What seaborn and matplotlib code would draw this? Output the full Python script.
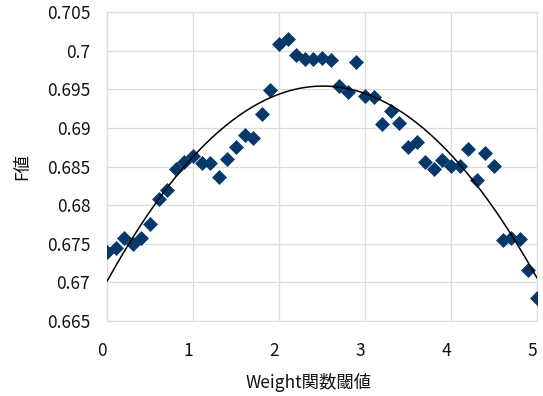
import numpy as np
import pandas as pd
import matplotlib
matplotlib.use("Agg")
import matplotlib.pyplot as plt
import matplotlib.transforms as mtransforms
from matplotlib.ticker import FuncFormatter
import seaborn as sns

# Weight function threshold vs. F-measure
thresholds = [round(0.1 * i, 1) for i in range(51)]
f_values = [
    0.6739, 0.6745, 0.6757, 0.6750, 0.6757, 0.6776, 0.6808, 0.6820, 0.6847, 0.6856,
    0.6864, 0.6855, 0.6855, 0.6836, 0.6860, 0.6875, 0.6891, 0.6887, 0.6918, 0.6949,
    0.7009, 0.7015, 0.6994, 0.6989, 0.6989, 0.6990, 0.6988, 0.6954, 0.6946, 0.6985,
    0.6941, 0.6940, 0.6905, 0.6922, 0.6906, 0.6875, 0.6882, 0.6856, 0.6847, 0.6858,
    0.6851, 0.6851, 0.6873, 0.6833, 0.6867, 0.6851, 0.6755, 0.6757, 0.6756, 0.6716,
    0.6680,
]
x_ticks = [0, 1, 2, 3, 4, 5]
y_ticks = [0.665, 0.67, 0.675, 0.68, 0.685, 0.69, 0.695, 0.7, 0.705]

df = pd.DataFrame({"threshold": thresholds, "f": f_values})

sns.set_style("white")
plt.rcParams["font.family"] = ["Noto Sans CJK JP", "DejaVu Sans"]

fig = plt.figure(figsize=(5.43, 3.96), dpi=100)
ax = fig.add_axes([0.197, 0.189, 0.792, 0.781])

grid_color = "#DCDCDC"
ax.set_axisbelow(True)
ax.grid(True, color=grid_color, linewidth=0.9)

sns.scatterplot(data=df, x="threshold", y="f", marker="D", s=58,
                color="#06386A", edgecolor="#06386A", linewidth=0, ax=ax, zorder=3)
sns.regplot(data=df, x="threshold", y="f", order=2, scatter=False, ci=None,
            line_kws={"color": "black", "linewidth": 1.1, "zorder": 4}, ax=ax)

ax.set_xlim(0, 5)
ax.set_ylim(0.665, 0.705)
ax.set_xticks(x_ticks)
ax.set_yticks(y_ticks)
ax.yaxis.set_major_formatter(FuncFormatter(lambda v, _: f"{v:g}"))
ax.tick_params(axis="both", length=0, labelsize=12.5, colors="#111111")
ax.tick_params(axis="y", pad=12)
ax.tick_params(axis="x", pad=15)

# nudge x tick labels slightly left
shift = mtransforms.ScaledTranslation(-5 / 100, 0, fig.dpi_scale_trans)
for lbl in ax.get_xticklabels():
    lbl.set_transform(lbl.get_transform() + shift)

for sp in ax.spines.values():
    sp.set_color(grid_color)
    sp.set_linewidth(0.9)

ax.set_xlabel("Weight関数閾値", fontsize=12.5, color="#111111")
ax.xaxis.set_label_coords(0.47, -0.197)
ax.xaxis.label.set_va("center")
ax.set_ylabel("F値", fontsize=12.5, color="#111111")
ax.yaxis.set_label_coords(-0.198, 0.5)
ax.yaxis.label.set_va("center")

fig.savefig("out.png", dpi=100)
